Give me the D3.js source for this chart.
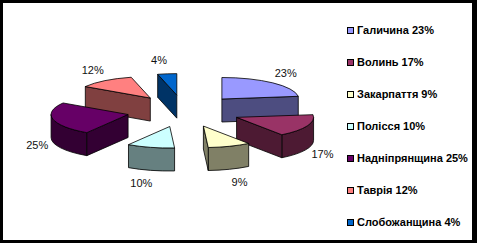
<!DOCTYPE html>
<html>
<head>
<meta charset="utf-8">
<script src="https://cdn.jsdelivr.net/npm/d3@7/dist/d3.min.js"></script>
<style>
  html, body { margin: 0; padding: 0; background: #fff; }
  svg { display: block; }
</style>
</head>
<body>
<svg id="chart" width="477" height="243"></svg>
<script>
// Regions and their shares, in percent
const regions = ["Галичина", "Волинь", "Закарпаття", "Полісся", "Надніпрянщина", "Таврія", "Слобожанщина"];
const shares = [23, 17, 9, 10, 25, 12, 4];
const topColors = ["#9999FF", "#993366", "#FFFFCC", "#CCFFFF", "#660066", "#FF8080", "#0066CC"];
const sideColors = ["#4D4D80", "#4D1A33", "#808066", "#668080", "#330033", "#804040", "#003366"];

const W = 477, H = 243;
const svg = d3.select("#chart");

// Frame
svg.append("rect").attr("width", W).attr("height", H).attr("fill", "#000");
svg.append("rect").attr("x", 3).attr("y", 3).attr("width", 469).attr("height", 237).attr("fill", "#fff");

// Tilted pie geometry
const cx = 184, cy = 111;     // pie centre
const Rx = 77, Ry = 21.5;     // projected radii
const depth = 23;             // slab thickness
const explode = 0.744;        // slice offset, fraction of radius
const labelRy = 35;

const arcs = d3.pie().sort(null).value(d => d)(shares)
  .map((a, i) => {
    const m = (a.startAngle + a.endAngle) / 2;
    return {
      i, a0: a.startAngle, a1: a.endAngle, m,
      cx: cx + explode * Rx * Math.sin(m),
      cy: cy - explode * Ry * Math.cos(m)
    };
  });

function pt(s, t, r, z) {
  return [s.cx + Rx * r * Math.sin(t), s.cy - Ry * r * Math.cos(t) + z];
}
function arcTo(s, t0, t1, z) {
  const p = pt(s, t1, 1, z);
  const large = Math.abs(t1 - t0) > Math.PI ? 1 : 0;
  const sweep = t1 > t0 ? 1 : 0;
  return `A${Rx},${Ry} 0 ${large} ${sweep} ${p[0]},${p[1]}`;
}
function topPath(s) {
  const c = pt(s, 0, 0, 0), p0 = pt(s, s.a0, 1, 0);
  return `M${c}L${p0}${arcTo(s, s.a0, s.a1, 0)}Z`;
}
function outerSide(s) {
  const t0 = Math.max(s.a0, Math.PI / 2), t1 = Math.min(s.a1, 3 * Math.PI / 2);
  if (t1 <= t0) return null;
  const a = pt(s, t0, 1, 0), b = pt(s, t1, 1, depth);
  return `M${a}${arcTo(s, t0, t1, 0)}L${b}${arcTo(s, t1, t0, depth)}Z`;
}
function radialSide(s, t) {
  const c0 = pt(s, t, 0, 0), p0 = pt(s, t, 1, 0), p1 = pt(s, t, 1, depth), c1 = pt(s, t, 0, depth);
  return `M${c0}L${p0}L${p1}L${c1}Z`;
}

// Paint back slices first
const order = arcs.slice().sort((a, b) => (-Math.cos(a.m)) - (-Math.cos(b.m)));
const pie = svg.append("g").attr("stroke", "#000").attr("stroke-width", 0.8).attr("stroke-linejoin", "round");

order.forEach(s => {
  const g = pie.append("g");
  const side = sideColors[s.i];
  const o = outerSide(s);
  if (o) g.append("path").attr("d", o).attr("fill", side);
  if (s.a0 > Math.PI && s.a0 < 2 * Math.PI) g.append("path").attr("d", radialSide(s, s.a0)).attr("fill", side);
  if (s.a1 > 0 && s.a1 < Math.PI) g.append("path").attr("d", radialSide(s, s.a1)).attr("fill", side);
  g.append("path").attr("d", topPath(s)).attr("fill", topColors[s.i]);
});

// Percentage labels, set just outside each slice's rim
function labelX(s) {
  const sn = Math.sin(s.m);
  return s.cx + Rx * sn + 9 * sn + 7 * Math.sign(sn);
}
svg.append("g")
  .attr("font-family", "'Liberation Sans Narrow', 'Liberation Sans', Arial, sans-serif")
  .attr("font-size", 11)
  .attr("fill", "#111")
  .attr("text-anchor", "middle")
  .selectAll("text").data(arcs).join("text")
  .attr("x", labelX)
  .attr("y", s => s.cy - labelRy * Math.cos(s.m) + (Math.cos(s.m) < 0 ? depth : 0))
  .attr("dy", "0.35em")
  .text(s => `${shares[s.i]}%`);

// Legend
const legend = svg.append("g")
  .attr("font-family", "'Liberation Sans', Arial, sans-serif")
  .attr("font-size", 11)
  .attr("font-weight", "bold");
const rowY = d3.scalePoint().domain(regions).range([30.5, 222.5]);
regions.forEach((r, i) => {
  const y = rowY(r);
  legend.append("rect").attr("x", 347.5).attr("y", y - 3).attr("width", 6).attr("height", 6)
    .attr("fill", topColors[i]).attr("stroke", "#000").attr("stroke-width", 1);
  legend.append("text").attr("x", 357).attr("y", y).attr("dy", "0.36em").attr("fill", "#000")
    .text(`${r} ${shares[i]}%`);
});
</script>
</body>
</html>
